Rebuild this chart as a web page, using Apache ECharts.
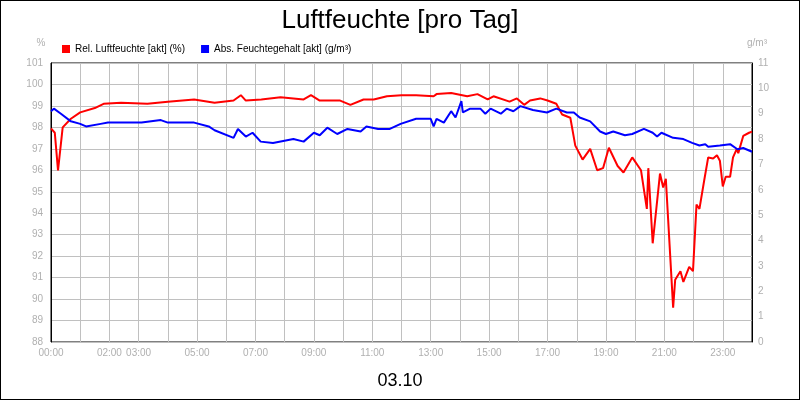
<!DOCTYPE html>
<html>
<head>
<meta charset="utf-8">
<script src="https://cdn.jsdelivr.net/npm/echarts@6/dist/echarts.min.js"></script>
<style>
  html, body { margin: 0; padding: 0; background: #fff; }
  #chart { width: 798px; height: 398px; border: 1px solid #000; }
</style>
</head>
<body>
<div id="chart"></div>
<script>
// Rel. Luftfeuchte (%) – Stunde / Wert
var relHours = [0, 0.13, 0.24, 0.4, 0.68, 1.0, 1.5, 1.8, 2.4, 3.3, 4.0, 4.9, 5.6, 6.25, 6.5, 6.67, 7.2, 7.86, 8.65, 8.9, 9.2, 9.9, 10.25, 10.7, 11.05, 11.5, 12.0, 12.5, 13.1, 13.2, 13.7, 14.25, 14.6, 14.95, 15.15, 15.7, 15.95, 16.2, 16.4, 16.75, 17.0, 17.3, 17.5, 17.78, 17.95, 18.2, 18.46, 18.7, 18.9, 19.1, 19.4, 19.6, 19.9, 20.2, 20.4, 20.45, 20.6, 20.85, 20.96, 21.05, 21.3, 21.37, 21.55, 21.65, 21.85, 21.98, 22.1, 22.2, 22.36, 22.5, 22.67, 22.8, 22.9, 23.0, 23.1, 23.25, 23.35, 23.48, 23.53, 23.7, 23.9, 24];
var relVals = [97.95, 97.75, 96.0, 98.0, 98.4, 98.7, 98.9, 99.1, 99.15, 99.1, 99.2, 99.3, 99.15, 99.25, 99.5, 99.25, 99.3, 99.4, 99.3, 99.5, 99.25, 99.25, 99.05, 99.3, 99.3, 99.45, 99.5, 99.5, 99.45, 99.55, 99.6, 99.45, 99.55, 99.3, 99.45, 99.2, 99.35, 99.05, 99.25, 99.35, 99.25, 99.1, 98.6, 98.45, 97.15, 96.5, 97.0, 96.0, 96.1, 97.05, 96.2, 95.9, 96.6, 96.0, 94.2, 96.1, 92.6, 95.85, 95.2, 95.6, 89.6, 90.9, 91.3, 90.8, 91.5, 91.3, 94.4, 94.2, 95.5, 96.6, 96.55, 96.7, 96.45, 95.25, 95.7, 95.7, 96.6, 97.0, 96.8, 97.6, 97.75, 97.8];

// Abs. Feuchtegehalt (g/m³) – Stunde / Wert
var absHours = [0, 0.1, 0.34, 0.68, 1.0, 1.2, 1.7, 1.95, 3.1, 3.76, 4.0, 4.9, 5.4, 5.6, 6.25, 6.4, 6.67, 6.9, 7.18, 7.6, 8.3, 8.65, 9.0, 9.2, 9.46, 9.8, 10.15, 10.6, 10.8, 11.2, 11.6, 11.97, 12.5, 13.0, 13.1, 13.2, 13.45, 13.7, 13.85, 14.05, 14.1, 14.35, 14.7, 14.87, 15.05, 15.4, 15.6, 15.83, 16.07, 16.5, 16.98, 17.3, 17.66, 17.9, 18.1, 18.46, 18.8, 19.0, 19.25, 19.65, 19.9, 20.3, 20.6, 20.75, 20.9, 21.3, 21.65, 21.95, 22.2, 22.4, 22.5, 22.9, 23.25, 23.5, 23.7, 23.9, 24];
var absVals = [9.1, 9.2, 9.0, 8.7, 8.6, 8.5, 8.6, 8.65, 8.65, 8.75, 8.65, 8.65, 8.5, 8.35, 8.05, 8.4, 8.1, 8.25, 7.9, 7.85, 8.0, 7.9, 8.25, 8.15, 8.45, 8.2, 8.4, 8.3, 8.5, 8.4, 8.4, 8.6, 8.8, 8.8, 8.5, 8.8, 8.65, 9.1, 8.85, 9.5, 9.05, 9.2, 9.2, 9.0, 9.2, 9.0, 9.2, 9.1, 9.3, 9.15, 9.05, 9.2, 9.05, 9.05, 8.85, 8.7, 8.3, 8.2, 8.3, 8.15, 8.2, 8.4, 8.25, 8.1, 8.25, 8.05, 8.0, 7.85, 7.75, 7.8, 7.7, 7.75, 7.8, 7.6, 7.65, 7.55, 7.5];

// beschriftete Stunden auf der x-Achse
var hourLabels = [0, 2, 3, 5, 7, 9, 11, 13, 15, 17, 19, 21, 23];

var relData = relHours.map((h, i) => [h, relVals[i]]);
var absData = absHours.map((h, i) => [h, absVals[i]]);

var chart = echarts.init(document.getElementById("chart"));

var gridLine = { show: true, lineStyle: { color: "#c0c0c0", width: 1 } };
var axisText = { color: "#b0b0b0", fontSize: 10, fontFamily: "Arial, Liberation Sans" };

var option = {
  animation: false,
  textStyle: { fontFamily: "Arial, Liberation Sans" },
  title: [
    { text: "Luftfeuchte [pro Tag]", left: "center", top: 2,
      textStyle: { fontSize: 26, fontWeight: "normal", color: "#000" } },
    { text: "03.10", left: "center", top: 366,
      textStyle: { fontSize: 18, fontWeight: "normal", color: "#000" } }
  ],
  legend: {
    left: 56, top: 38, itemWidth: 8, itemHeight: 8, itemGap: 16,
    icon: "rect",
    textStyle: { fontSize: 10, color: "#000" },
    data: ["Rel. Luftfeuchte [akt] (%)", "Abs. Feuchtegehalt [akt] (g/m³)"]
  },
  grid: { left: 50, right: 47, top: 62, bottom: 57, show: true, borderColor: "#000", borderWidth: 1 },
  xAxis: {
    type: "value", min: 0, max: 24, interval: 1,
    axisLine: { show: false },
    axisTick: { show: false },
    splitLine: gridLine,
    axisLabel: Object.assign({
      margin: 6,
      formatter: function (v) {
        return hourLabels.indexOf(v) >= 0 ? (v < 10 ? "0" : "") + v + ":00" : "";
      }
    }, axisText)
  },
  yAxis: [
    {
      type: "value", min: 88, max: 101, interval: 1, name: "%",
      nameTextStyle: { color: "#b0b0b0", fontSize: 10, padding: [0, 0, 0, -20] },
      axisLine: { show: true, lineStyle: { color: "#000" } },
      axisTick: { show: false },
      splitLine: gridLine,
      axisLabel: Object.assign({ margin: 8 }, axisText)
    },
    {
      type: "value", min: 0, max: 11, interval: 1, name: "g/m³",
      nameTextStyle: { color: "#b0b0b0", fontSize: 10, padding: [0, -10, 0, 0] },
      axisLine: { show: true, lineStyle: { color: "#000" } },
      axisTick: { show: false },
      splitLine: { show: false },
      axisLabel: Object.assign({ margin: 6 }, axisText)
    }
  ],
  series: [
    {
      name: "Rel. Luftfeuchte [akt] (%)", type: "line", yAxisIndex: 0,
      data: relData, showSymbol: false,
      lineStyle: { color: "#ff0000", width: 2 }, itemStyle: { color: "#ff0000" }
    },
    {
      name: "Abs. Feuchtegehalt [akt] (g/m³)", type: "line", yAxisIndex: 1,
      data: absData, showSymbol: false,
      lineStyle: { color: "#0000ff", width: 2 }, itemStyle: { color: "#0000ff" }
    }
  ]
};

chart.setOption(option);
</script>
</body>
</html>
